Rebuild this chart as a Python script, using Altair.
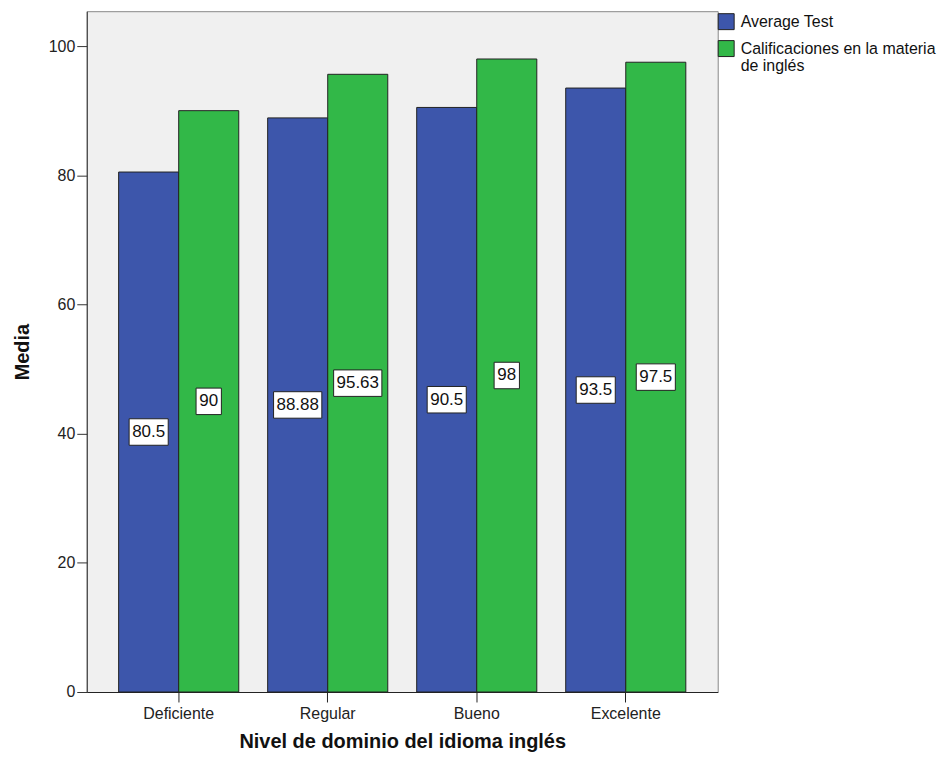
import altair as alt
import pandas as pd

categories = ["Deficiente", "Regular", "Bueno", "Excelente"]
series = ["Average Test", "Calificaciones en la materia de inglés"]
average_test = [80.5, 88.88, 90.5, 93.5]
calificaciones = [90, 95.63, 98, 97.5]
avg_labels = ["80.5", "88.88", "90.5", "93.5"]
cal_labels = ["90", "95.63", "98", "97.5"]

rows = []
for c, v, l in zip(categories, average_test, avg_labels):
    rows.append({"cat": c, "series": series[0], "value": v, "label": l})
for c, v, l in zip(categories, calificaciones, cal_labels):
    rows.append({"cat": c, "series": series[1], "value": v, "label": l})
df = pd.DataFrame(rows)

FONT = "Liberation Sans, Arial, sans-serif"
BLUE = "#3d56ab"
GREEN = "#32b848"

x_enc = alt.X(
    "cat:N",
    sort=categories,
    scale=alt.Scale(paddingInner=0.194, paddingOuter=0.214),
    axis=alt.Axis(
        title="Nivel de dominio del idioma inglés",
        labelAngle=0,
        tickSize=10,
        labelPadding=4,
        titlePadding=10,
        domainColor="#222",
        tickColor="#222",
    ),
)
xoff_enc = alt.XOffset("series:N", sort=series, scale=alt.Scale(paddingInner=0, paddingOuter=0))

base = alt.Chart(df)

bars = base.mark_bar(stroke="#222", strokeWidth=1).encode(
    x=x_enc,
    xOffset=xoff_enc,
    y=alt.Y(
        "value:Q",
        scale=alt.Scale(domain=[0, 105.4], nice=False),
        axis=alt.Axis(
            title="Media",
            values=[0, 20, 40, 60, 80, 100],
            tickSize=10,
            labelPadding=2,
            titlePadding=16,
            grid=False,
            domainColor="#333",
            tickColor="#333",
        ),
    ),
    color=alt.Color(
        "series:N",
        sort=series,
        scale=alt.Scale(domain=series, range=[BLUE, GREEN]),
        legend=alt.Legend(
            title=None,
            orient="none",
            legendX=633,
            legendY=2,
            symbolType="square",
            symbolSize=256,
            symbolStrokeColor="#222",
            symbolStrokeWidth=1,
            symbolOpacity=1,
            labelFontSize=16,
            labelFont=FONT,
            labelColor="#111",
            labelOffset=6,
            labelLimit=400,
            rowPadding=6,
            padding=0,
            labelExpr="datum.label == 'Calificaciones en la materia de inglés' ? ['Calificaciones en la materia', 'de inglés'] : datum.label",
        ),
    ),
)

boxes = base.transform_calculate(
    y1="datum.value / 2 - 2.05",
    y2="datum.value / 2 + 2.05",
    ndot="length(datum.label) - length(replace(datum.label, '.', ''))",
).transform_calculate(
    boxw="(length(datum.label) - datum.ndot) * 9.2 + datum.ndot * 4.6 + 7",
).mark_bar(fill="white", stroke="#222", strokeWidth=1).encode(
    x=x_enc,
    xOffset=xoff_enc,
    y="y1:Q",
    y2="y2:Q",
    size=alt.Size("boxw:Q", scale=None, legend=None),
)

texts = base.transform_calculate(mid="datum.value / 2").mark_text(
    font=FONT, fontSize=17, baseline="middle", align="center", color="#111"
).encode(
    x=x_enc,
    xOffset=xoff_enc,
    y="mid:Q",
    text="label:N",
)

chart = (
    alt.layer(bars, boxes, texts)
    .properties(width=633, height=683, padding={"left": 4, "top": 2, "right": 5, "bottom": 5})
    .configure_view(fill="#f0f0f0", stroke="#888", strokeWidth=1)
    .configure_axis(
        labelFont=FONT,
        labelFontSize=16,
        labelColor="#222",
        titleFont=FONT,
        titleFontSize=20,
        titleFontWeight="bold",
        titleColor="#111",
    )
    .configure_legend(labelFont=FONT)
)

chart.save("out.html", embed_options={"renderer": "svg", "actions": False})
